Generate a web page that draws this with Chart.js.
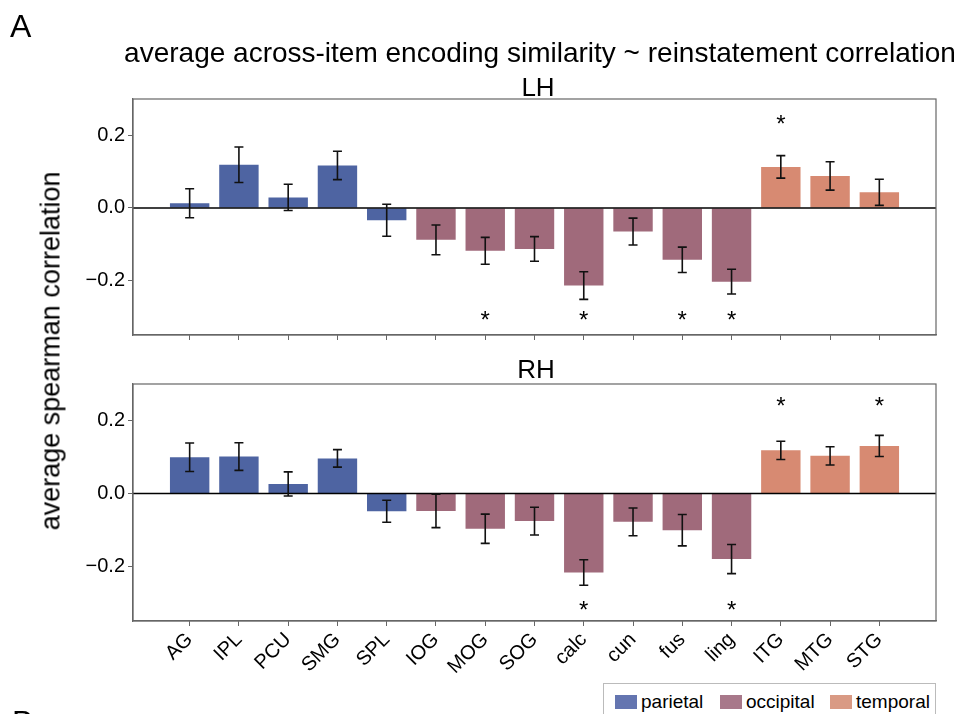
<!DOCTYPE html>
<html>
<head>
<meta charset="utf-8">
<script src="https://cdn.jsdelivr.net/npm/chart.js@4"></script>
<style>
  body { margin: 0; background: #fff; font-family: "Liberation Sans", Arial, sans-serif; }
  #wrap { position: relative; width: 966px; height: 714px; overflow: hidden; }
  .box { position: absolute; left: 0; width: 966px; }
  .txt { position: absolute; color: #000; white-space: nowrap; line-height: 1; }
  #legend { position: absolute; left: 603px; top: 683px; width: 331px; height: 44px;
            border: 1px solid #bbb; background: #fff; }
  .item { position: absolute; top: 7px; font-size: 19px; }
  .sw { display: inline-block; width: 22px; height: 14px; vertical-align: -1px; margin-right: 4px; }
</style>
</head>
<body>
<div id="wrap">
  <div class="box" style="top:0;height:350px"><canvas id="lh"></canvas></div>
  <div class="box" style="top:345px;height:369px"><canvas id="rh"></canvas></div>

  <div class="txt" style="left:10px;top:10px;font-size:32px">A</div>
  <div class="txt" style="left:540px;top:39px;font-size:28px;transform:translateX(-50%)">average across-item encoding similarity ~ reinstatement correlation</div>
  <div class="txt" style="left:538px;top:74px;font-size:26px;transform:translateX(-50%)">LH</div>
  <div class="txt" style="left:536px;top:356px;font-size:26px;transform:translateX(-50%)">RH</div>
  <div class="txt" style="left:51px;top:351px;font-size:27px;transform:translate(-50%,-50%) rotate(-90deg)">average spearman correlation</div>
  <div class="txt" style="left:12px;top:706px;font-size:32px">B</div>

  <div id="legend">
    <div class="item" style="left:11px"><span class="sw" style="background:#6475b0"></span>parietal</div>
    <div class="item" style="left:116px"><span class="sw" style="background:#a8788a"></span>occipital</div>
    <div class="item" style="left:226px"><span class="sw" style="background:#d99a84"></span>temporal</div>
  </div>
</div>

<script>
// regions of interest
const regions = ['AG', 'IPL', 'PCU', 'SMG', 'SPL', 'IOG', 'MOG', 'SOG', 'calc', 'cun', 'fus', 'ling', 'ITG', 'MTG', 'STG'];
const lobes = ['parietal', 'parietal', 'parietal', 'parietal', 'parietal',
               'occipital', 'occipital', 'occipital', 'occipital', 'occipital', 'occipital', 'occipital',
               'temporal', 'temporal', 'temporal'];

// left hemisphere
const lhMean = [0.013, 0.119, 0.029, 0.117, -0.034, -0.088, -0.118, -0.113, -0.214, -0.065, -0.143, -0.203, 0.113, 0.088, 0.043];
const lhErr  = [0.040, 0.049, 0.036, 0.039, 0.044, 0.041, 0.037, 0.034, 0.038, 0.037, 0.035, 0.034, 0.031, 0.039, 0.036];
const lhStars = [6, 8, 10, 11, 12];
const lhStarLevel = [-0.30, -0.30, -0.30, -0.30, 0.24];

// right hemisphere
const rhMean = [0.099, 0.101, 0.026, 0.096, -0.049, -0.048, -0.097, -0.076, -0.217, -0.078, -0.101, -0.180, 0.118, 0.103, 0.130];
const rhErr  = [0.039, 0.038, 0.033, 0.024, 0.030, 0.046, 0.040, 0.038, 0.035, 0.038, 0.043, 0.040, 0.025, 0.025, 0.029];
const rhStars = [8, 11, 12, 14];
const rhStarLevel = [-0.31, -0.31, 0.25, 0.25];

const yTicks = [-0.2, 0, 0.2];

const lobeColor = { parietal: '#4e64a2', occipital: '#a06a7b', temporal: '#d78a72' };
const FONT = '"Liberation Sans", Arial, sans-serif';

// box, zero line, error bars, stars
const extras = {
    id: 'extras',
    afterDatasetsDraw(chart, args, opts) {
        const { ctx, chartArea: a, scales: { x, y } } = chart;
        ctx.save();
        // zero line
        ctx.strokeStyle = '#000';
        ctx.lineWidth = 1.5;
        ctx.beginPath();
        ctx.moveTo(a.left, y.getPixelForValue(0));
        ctx.lineTo(a.right, y.getPixelForValue(0));
        ctx.stroke();
        // error bars
        ctx.strokeStyle = '#111';
        ctx.lineWidth = 1.6;
        opts.mean.forEach((m, i) => {
            const px = x.getPixelForValue(i);
            const hi = y.getPixelForValue(m + opts.err[i]);
            const lo = y.getPixelForValue(m - opts.err[i]);
            ctx.beginPath();
            ctx.moveTo(px, hi); ctx.lineTo(px, lo);
            ctx.moveTo(px - 4.5, hi); ctx.lineTo(px + 4.5, hi);
            ctx.moveTo(px - 4.5, lo); ctx.lineTo(px + 4.5, lo);
            ctx.stroke();
        });
        // significance stars
        ctx.fillStyle = '#000';
        ctx.font = '24px ' + FONT;
        ctx.textAlign = 'center';
        ctx.textBaseline = 'middle';
        opts.stars.forEach((idx, k) => {
            ctx.fillText('*', x.getPixelForValue(idx), y.getPixelForValue(opts.starLevel[k]) + 5);
        });
        // frame
        ctx.strokeStyle = '#666';
        ctx.lineWidth = 1.2;
        ctx.strokeRect(a.left, a.top, a.right - a.left, a.bottom - a.top);
        ctx.restore();
    }
};

function makeChart(id, mean, err, stars, starLevel, showLabels, padTop, xHeight) {
    const ctx = document.getElementById(id).getContext('2d');
    return new Chart(ctx, {
        type: 'bar',
        data: {
            datasets: [{
                data: mean.map((v, i) => ({ x: i, y: v })),
                backgroundColor: lobes.map(l => lobeColor[l]),
                borderWidth: 0,
                barPercentage: 0.8,
                categoryPercentage: 1.0
            }]
        },
        plugins: [extras],
        options: {
            responsive: true,
            maintainAspectRatio: false,
            animation: false,
            layout: { padding: { top: padTop, right: 30, left: 0, bottom: 0 } },
            plugins: {
                legend: { display: false },
                tooltip: { enabled: false },
                extras: { mean: mean, err: err, stars: stars, starLevel: starLevel }
            },
            scales: {
                x: {
                    type: 'linear',
                    offset: false,
                    min: -1.15,
                    max: 15.15,
                    afterBuildTicks: s => { s.ticks = regions.map((r, i) => ({ value: i })); },
                    afterFit: s => { s.height = xHeight; },
                    grid: { offset: false, drawOnChartArea: false, drawTicks: true, tickLength: 5, color: '#666' },
                    border: { display: true, color: '#666', width: 1.2 },
                    ticks: {
                        display: showLabels,
                        autoSkip: false,
                        minRotation: 45,
                        maxRotation: 45,
                        padding: 2,
                        color: '#000',
                        font: { family: FONT, size: 20 },
                        callback: v => regions[v]
                    }
                },
                y: {
                    min: -0.35,
                    max: 0.30,
                    afterBuildTicks: s => { s.ticks = yTicks.map(v => ({ value: v })); },
                    afterFit: s => { s.width = 133; },
                    grid: { drawOnChartArea: false, drawTicks: true, tickLength: 5, color: '#666' },
                    border: { display: true, color: '#666', width: 1.2 },
                    ticks: {
                        color: '#000',
                        padding: 3,
                        font: { family: FONT, size: 20 },
                        callback: v => (v < 0 ? '\u2212' : '') + Math.abs(v).toFixed(1)
                    }
                }
            }
        }
    });
}

makeChart('lh', lhMean, lhErr, lhStars, lhStarLevel, false, 99, 13);
makeChart('rh', rhMean, rhErr, rhStars, rhStarLevel, true, 39, 93);
</script>
</body>
</html>
